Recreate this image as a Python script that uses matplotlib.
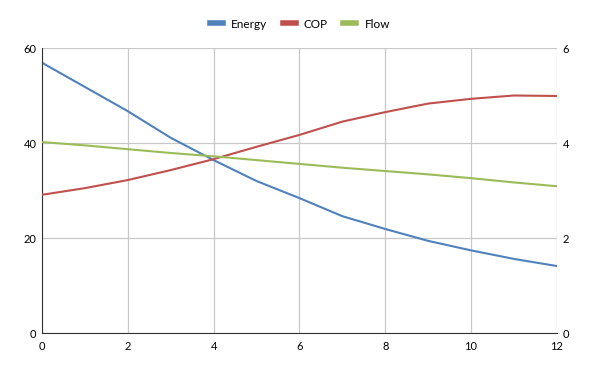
import matplotlib
matplotlib.use("Agg")
import matplotlib.pyplot as plt

plt.rcParams['font.family'] = ['Lato', 'DejaVu Sans']

x = [0, 1, 2, 3, 4, 5, 6, 7, 8, 9, 10, 11, 12]
energy = [56.9, 51.8, 46.7, 41.1, 36.4, 32.0, 28.4, 24.6, 21.9, 19.4, 17.4, 15.6, 14.1]
cop = [2.91, 3.05, 3.22, 3.43, 3.66, 3.92, 4.17, 4.45, 4.65, 4.83, 4.93, 5.00, 4.99]
flow = [4.02, 3.95, 3.87, 3.79, 3.72, 3.64, 3.56, 3.48, 3.41, 3.34, 3.26, 3.17, 3.09]

c_energy = '#4f81bd'
c_cop = '#c0504d'
c_flow = '#9bbb59'

fig = plt.figure(figsize=(6, 3.71), dpi=100)
ax = fig.add_axes([0.07, 0.1024, 0.858, 0.7682])
ax2 = ax.twinx()

l1, = ax.plot(x, energy, color=c_energy, lw=1.5, label='Energy')
l2, = ax2.plot(x, cop, color=c_cop, lw=1.5, label='COP')
l3, = ax2.plot(x, flow, color=c_flow, lw=1.5, label='Flow')

ax.set_xlim(0, 12)
ax.set_ylim(0, 60)
ax2.set_ylim(0, 6)
ax.set_xticks(range(0, 13, 2))
ax.set_yticks([0, 20, 40, 60])
ax2.set_yticks([0, 2, 4, 6])

ax.grid(True, color='#c8c8c8', lw=0.9)
ax.set_axisbelow(True)
for a in (ax, ax2):
    a.tick_params(length=0, labelsize=8, colors='#000000', pad=4)
    for s in a.spines.values():
        s.set_visible(False)
ax.spines['left'].set_visible(True)
ax.spines['bottom'].set_visible(True)
ax.spines['left'].set_color('#333333')
ax.spines['bottom'].set_color('#333333')
ax.tick_params(axis='x', pad=6)

leg = fig.legend(handles=[l1, l2, l3], loc='center', bbox_to_anchor=(0.5, 0.935),
                 ncol=3, frameon=False, fontsize=8.5, handlelength=1.1,
                 columnspacing=1.3, handletextpad=0.7)
for h in leg.get_lines():
    h.set_linewidth(4)

fig.savefig('out.png', dpi=100)
